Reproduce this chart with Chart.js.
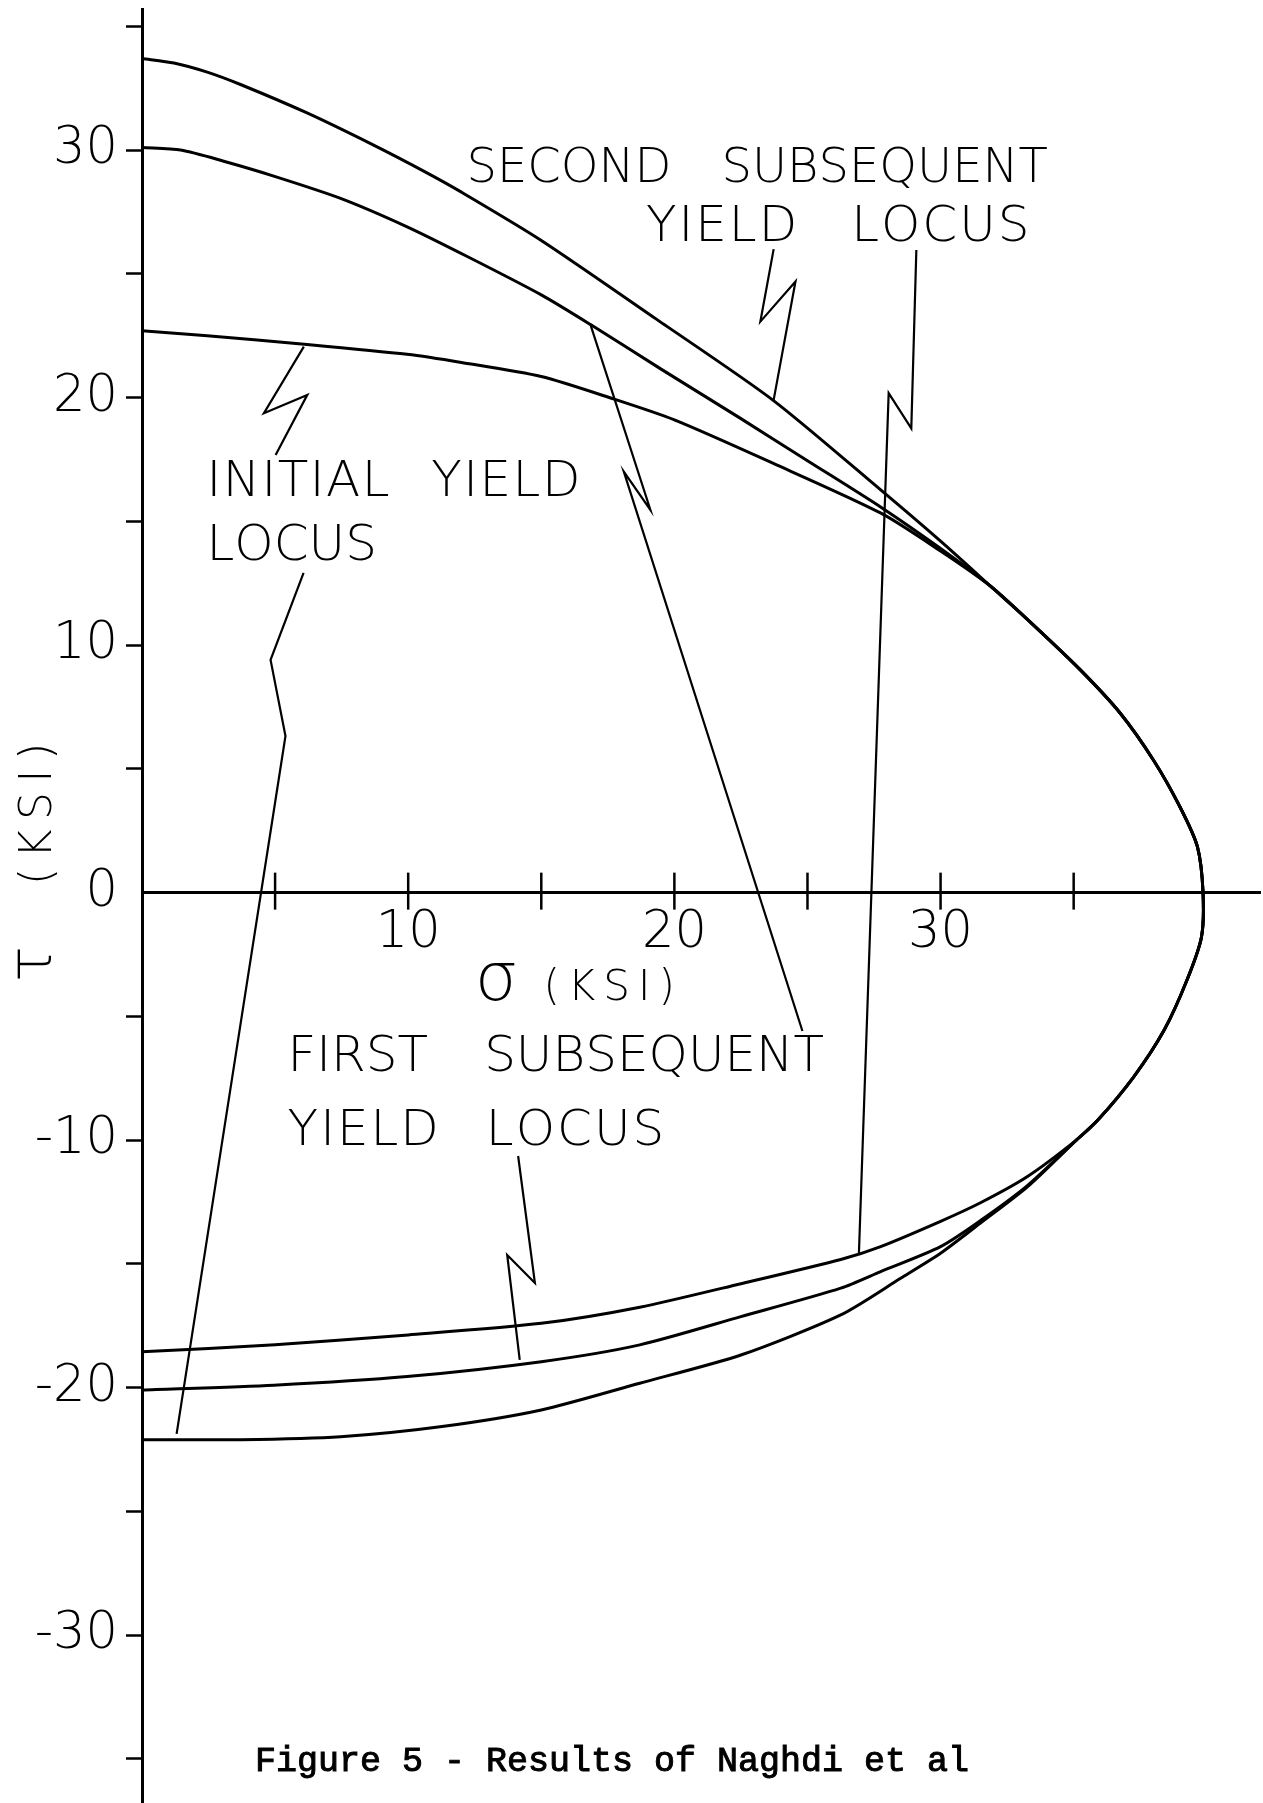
<!DOCTYPE html>
<html>
<head>
<meta charset="utf-8">
<title>Figure 5 - Results of Naghdi et al</title>
<script src="https://cdn.jsdelivr.net/npm/chart.js@4.4.1/dist/chart.umd.min.js"></script>
<style>
  html, body { margin: 0; padding: 0; background: #ffffff; }
  #wrap { width: 1263px; height: 1803px; position: relative; }
</style>
</head>
<body>
<div id="wrap"><canvas id="yieldChart"></canvas></div>
<script>
// Yield loci in the sigma-tau plane, both in ksi.
// Each locus runs from its top crossing of the tau axis, round the tip, down to the bottom crossing.
const initialSigma = [0, 2.45, 6.2, 9.96, 12.0, 15.0, 17.7, 20.0, 23.7, 27.76, 30.0, 31.9, 33.4, 35.25, 36.75, 38.0, 39.0, 39.65, 39.86, 39.8, 39.25, 38.4, 37.25, 35.9, 35.1, 33.25, 31.5, 30.0, 28.5, 26.25, 22.5, 18.7, 15.0, 11.2, 7.46, 3.7, 0];
const initialTau = [22.7, 22.5, 22.15, 21.75, 21.42, 20.85, 19.95, 19.1, 17.35, 15.33, 13.8, 12.36, 10.9, 9.0, 7.25, 5.35, 3.45, 1.85, 0, -1.8, -3.55, -5.55, -7.45, -9.2, -10.0, -11.9, -13.35, -14.57, -15.58, -17.06, -18.68, -19.82, -20.9, -21.58, -21.98, -22.1, -22.1];

const firstSigma = [0, 1.45, 3.07, 4.95, 7.46, 9.96, 12.22, 15.0, 16.85, 19.5, 22.5, 25.0, 27.76, 30.0, 31.9, 33.4, 35.25, 36.75, 38.0, 39.0, 39.65, 39.86, 39.8, 39.25, 38.4, 37.25, 35.9, 35.1, 33.25, 31.5, 30.0, 27.75, 26.25, 22.5, 18.7, 15.0, 9.96, 4.95, 0];
const firstTau = [30.1, 30.0, 29.55, 28.95, 28.05, 26.9, 25.7, 24.15, 22.95, 21.15, 19.15, 17.45, 15.57, 13.9, 12.36, 10.9, 9.0, 7.25, 5.35, 3.45, 1.85, 0, -1.8, -3.55, -5.55, -7.45, -9.2, -10.0, -11.85, -13.25, -14.3, -15.31, -15.98, -17.13, -18.27, -18.95, -19.55, -19.9, -20.1];

const secondSigma = [0, 1.2, 2.45, 3.7, 6.2, 8.7, 10.6, 12.0, 15.0, 19.35, 23.7, 27.75, 30.0, 31.9, 33.4, 35.25, 36.75, 38.0, 39.0, 39.65, 39.86, 39.8, 39.25, 38.4, 37.25, 35.9, 35.1, 33.25, 31.5, 30.0, 27.75, 26.25, 22.5, 18.7, 15.0, 10.0, 5.0, 0];
const secondTau = [33.7, 33.52, 33.15, 32.65, 31.5, 30.2, 29.14, 28.3, 26.35, 23.15, 19.9, 16.27, 14.2, 12.36, 10.9, 9.0, 7.25, 5.35, 3.45, 1.85, 0, -1.8, -3.55, -5.55, -7.45, -9.2, -10.0, -11.48, -12.53, -13.28, -14.3, -14.82, -15.8, -16.75, -17.4, -17.87, -18.27, -18.55];

// Axis extents and tick spacing (ksi)
const sigmaRange = [0, 42];
const tauRange = [-36.78, 35.7];
const tickStep = 5;
const labelEvery = 10;

// Zig-zag leaders from each callout to its curve, in (sigma, tau)
const leaderLines = [
  [[6.08, 22.06], [4.58, 19.37], [6.21, 20.11], [5.02, 17.68]],
  [[6.07, 12.92], [4.83, 9.40], [5.39, 6.33], [1.30, -21.87]],
  [[16.85, 22.94], [19.10, 15.46], [18.10, 17.01], [24.81, -5.59]],
  [[23.73, 26.0], [23.23, 23.07], [24.55, 24.69], [23.73, 19.91]],
  [[29.09, 25.96], [28.90, 18.76], [28.05, 20.18], [26.93, -14.64]],
  [[14.13, -10.64], [14.76, -15.77], [13.72, -14.64], [14.19, -18.88]]
];

// Callout text, anchored at left/baseline in (sigma, tau)
const callouts = [
  { text: 'SECOND SUBSEQUENT', sigma: 12.19, tau: 28.73, size: 48, tracking: 0, wordGap: 50 },
  { text: 'YIELD LOCUS', sigma: 18.93, tau: 26.33, size: 50, tracking: 2, wordGap: 52 },
  { text: 'INITIAL YIELD', sigma: 2.42, tau: 16.03, size: 50, tracking: 1.5, wordGap: 40 },
  { text: 'LOCUS', sigma: 2.42, tau: 13.44, size: 50, tracking: 0, wordGap: 0 },
  { text: 'FIRST SUBSEQUENT', sigma: 5.47, tau: -7.20, size: 50, tracking: 0, wordGap: 56 },
  { text: 'YIELD LOCUS', sigma: 5.47, tau: -10.19, size: 50, tracking: 2, wordGap: 45 }
];

const plotFont = '"DejaVu Sans", "Noto Sans", sans-serif';
const toPoints = (xs, ys) => xs.map((v, i) => ({ x: v, y: ys[i] }));

function drawSpaced(ctx, text, x0, y0, tracking, wordGap) {
  let x = x0;
  for (const ch of text) {
    if (ch === ' ') { x += wordGap; continue; }
    ctx.fillText(ch, x, y0);
    x += ctx.measureText(ch).width + tracking;
  }
}

// Crossing tick marks on the sigma axis, callouts, axis titles and caption
const plotterText = {
  id: 'plotterText',
  afterDraw(chart) {
    const { ctx, scales: { x, y } } = chart;
    const y0 = y.getPixelForValue(0);
    ctx.save();
    ctx.strokeStyle = '#000';
    ctx.lineWidth = 2.5;
    x.ticks.forEach(t => {
      const px = x.getPixelForValue(t.value);
      ctx.beginPath();
      ctx.moveTo(px, y0 - 20);
      ctx.lineTo(px, y0 + 17);
      ctx.stroke();
    });

    ctx.fillStyle = '#000';
    ctx.textAlign = 'left';
    ctx.textBaseline = 'alphabetic';
    callouts.forEach(c => {
      ctx.font = `200 ${c.size}px ${plotFont}`;
      drawSpaced(ctx, c.text, x.getPixelForValue(c.sigma), y.getPixelForValue(c.tau), c.tracking, c.wordGap);
    });

    // sigma axis title
    ctx.font = `200 68px ${plotFont}`;
    ctx.fillText('σ', x.getPixelForValue(12.5), y.getPixelForValue(-4.34));
    ctx.font = `200 42px ${plotFont}`;
    drawSpaced(ctx, '(KSI)', x.getPixelForValue(15.08), y.getPixelForValue(-4.34), 8, 0);

    // tau axis title, reading upwards
    const tauStart = y.getPixelForValue(-3.61);
    ctx.save();
    ctx.translate(y.left + 51, tauStart);
    ctx.rotate(-Math.PI / 2);
    ctx.font = `200 60px ${plotFont}`;
    ctx.fillText('τ', 0, 0);
    ctx.font = `200 44px ${plotFont}`;
    drawSpaced(ctx, '(KSI)', tauStart - y.getPixelForValue(0.31), 0, 9.5, 0);
    ctx.restore();

    // caption
    ctx.font = '35px "Liberation Mono", "DejaVu Sans Mono", monospace';
    ctx.lineWidth = 1;
    ctx.fillText('Figure 5 - Results of Naghdi et al', 255, chart.height - 32);
    ctx.strokeText('Figure 5 - Results of Naghdi et al', 255, chart.height - 32);
    ctx.restore();
  }
};

const locusStyle = { borderColor: '#000', borderWidth: 3, pointRadius: 0, showLine: true, fill: false, tension: 0.25 };
const leaderStyle = { borderColor: '#000', borderWidth: 2.2, pointRadius: 0, showLine: true, fill: false, tension: 0 };

new Chart(document.getElementById('yieldChart'), {
  type: 'scatter',
  data: {
    datasets: [
      { label: 'Initial yield locus', data: toPoints(initialSigma, initialTau), ...locusStyle },
      { label: 'First subsequent yield locus', data: toPoints(firstSigma, firstTau), ...locusStyle },
      { label: 'Second subsequent yield locus', data: toPoints(secondSigma, secondTau), ...locusStyle },
      ...leaderLines.map((pts, i) => ({
        label: 'leader ' + (i + 1),
        data: pts.map(p => ({ x: p[0], y: p[1] })),
        ...leaderStyle
      }))
    ]
  },
  plugins: [plotterText],
  options: {
    responsive: true,
    maintainAspectRatio: false,
    animation: false,
    layout: { padding: { left: 0, right: 3, top: 9, bottom: 0 } },
    plugins: {
      legend: { display: false },
      tooltip: { enabled: false }
    },
    scales: {
      x: {
        type: 'linear',
        position: { y: 0 },
        min: sigmaRange[0],
        max: sigmaRange[1],
        afterBuildTicks: s => { s.ticks = s.ticks.filter(t => t.value > 0 && t.value < 38); },
        afterFit: s => { s.paddingLeft = 0; s.paddingRight = 0; },
        border: { display: true, color: '#000', width: 3 },
        grid: { drawOnChartArea: false, drawTicks: false },
        ticks: {
          stepSize: tickStep,
          autoSkip: false,
          maxRotation: 0,
          padding: 16,
          color: '#000',
          font: { family: plotFont, size: 51, weight: 200, lineHeight: 1 },
          callback: v => (v % labelEvery === 0 ? String(v) : '')
        }
      },
      y: {
        type: 'linear',
        position: 'left',
        min: tauRange[0],
        max: tauRange[1],
        afterFit: s => { s.width = 142; s.paddingTop = 0; s.paddingBottom = 0; },
        border: { display: true, color: '#000', width: 3 },
        grid: {
          drawOnChartArea: false,
          drawTicks: true,
          tickLength: 16,
          tickWidth: 2.5,
          tickColor: c => (c.tick && c.tick.value === 0 ? 'rgba(0,0,0,0)' : '#000')
        },
        ticks: {
          stepSize: tickStep,
          includeBounds: false,
          autoSkip: false,
          padding: 8,
          color: '#000',
          font: { family: plotFont, size: 51, weight: 200 },
          callback: v => (v % labelEvery === 0 ? (v < 0 ? '-' + Math.abs(v) : String(v)) : '')
        }
      }
    }
  }
});
</script>
</body>
</html>
